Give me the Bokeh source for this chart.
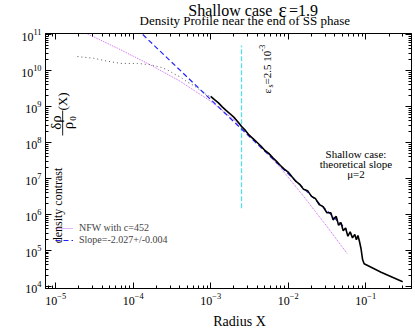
from math import pi
from bokeh.plotting import figure
from bokeh.layouts import column
from bokeh.models import LogAxis, Label, Legend, LegendItem, BoxAnnotation, LogTicker
from bokeh.embed import file_html
from bokeh.resources import INLINE

# ---------------- data ----------------
inner_x = [1.91e-5, 3.12e-5, 4.65e-5, 6.90e-5, 1.13e-4, 1.68e-4, 2.26e-4, 2.76e-4,
           3.37e-4, 4.10e-4, 5.00e-4, 6.10e-4, 7.43e-4, 9.06e-4, 1.00e-3]
inner_y = [2.45e10, 2.19e10, 1.82e10, 1.58e10, 1.58e10, 1.45e10, 1.23e10, 1.05e10,
           8.1e9, 6.5e9, 4.8e9, 3.8e9, 2.75e9, 2.04e9, 1.91e9]

profile_x = [1.00e-3, 1.12e-3, 1.26e-3, 1.41e-3, 1.58e-3, 1.78e-3, 2.00e-3, 2.24e-3,
             2.51e-3, 2.82e-3, 3.16e-3, 3.55e-3, 3.98e-3, 4.47e-3, 5.01e-3, 5.62e-3,
             6.31e-3, 7.08e-3, 7.94e-3, 8.91e-3, 1.00e-2, 1.12e-2, 1.26e-2, 1.41e-2,
             1.58e-2, 1.78e-2, 2.00e-2, 2.24e-2, 2.51e-2, 2.82e-2, 3.16e-2, 3.55e-2,
             3.80e-2, 4.17e-2, 4.47e-2, 4.79e-2, 5.13e-2, 5.50e-2, 5.89e-2, 6.31e-2,
             6.76e-2, 7.24e-2, 7.59e-2, 7.94e-2, 8.32e-2, 8.71e-2, 9.12e-2, 9.55e-2,
             0.158, 0.30]
profile_y = [1.91e9, 1.55e9, 1.26e9, 9.8e8, 7.8e8, 6.3e8, 5.0e8, 3.8e8,
             2.8e8, 2.14e8, 1.58e8, 1.26e8, 1.0e8, 7.9e7, 6.0e7, 5.0e7,
             3.8e7, 3.0e7, 2.3e7, 1.82e7, 1.51e7, 1.12e7, 8.3e6, 6.9e6,
             5.0e6, 4.6e6, 3.2e6, 2.8e6, 1.9e6, 1.66e6, 1.12e6, 1.12e6,
             7.1e5, 8.9e5, 5.0e5, 6.0e5, 3.55e5, 4.2e5, 2.5e5, 3.3e5,
             2.24e5, 2.8e5, 2.0e5, 2.6e5, 1.78e5, 1.12e5, 5.6e4, 4.3e4,
             2.5e4, 1.35e4]

nfw_x = [2.51e-5, 6.31e-5, 1.58e-4, 3.98e-4, 1.0e-3, 2.0e-3, 3.98e-3, 7.94e-3,
         1.58e-2, 3.16e-2, 5.75e-2]
nfw_y = [1.07e11, 4.15e10, 1.53e10, 5.14e9, 1.40e9, 4.26e8, 1.03e8, 1.99e7,
         3.22e6, 4.67e5, 8.3e4]

fit_x = [1.33e-4, 5.7e-2]
fit_y = [1.0e11, 3.8e5]

eps_x = [2.5e-3, 2.5e-3]
eps_y = [1.5e6, 5.0e10]

legend_labels = ["NFW with c=452", "Slope=-2.027+/-0.004"]

# ---------------- main figure ----------------
FONT = "Liberation Serif"
W, H = 415, 329

p = figure(width=W, height=H, x_axis_type="log", y_axis_type="log",
           x_range=(7.4e-6, 0.39), y_range=(8.8e3, 1.07e11),
           output_backend="svg", toolbar_location=None,
           min_border_left=45, min_border_right=4, min_border_top=33,
           min_border_bottom=41, margin=(0, 0, 0, 0))
p.xgrid.visible = False
p.ygrid.visible = False
p.outline_line_color = "black"
p.background_fill_color = "white"
p.border_fill_color = "white"


def style_axis(ax, labels=True):
    ax.major_tick_in = 6
    ax.major_tick_out = 0
    ax.minor_tick_in = 3
    ax.minor_tick_out = 0
    ax.axis_line_color = "black"
    ax.major_tick_line_color = "black"
    ax.minor_tick_line_color = "black"
    if labels:
        ax.major_label_text_font = FONT
        ax.major_label_text_font_size = "12px"
        ax.major_label_text_color = "black"
        ax.major_label_standoff = 4
    else:
        ax.major_label_text_font_size = "1px"
        ax.major_label_text_alpha = 0
        ax.major_label_standoff = 0


for ax in [p.xaxis[0], p.yaxis[0]]:
    ax.ticker = LogTicker(num_minor_ticks=10, desired_num_ticks=8)
    style_axis(ax)

for loc in ["above", "right"]:
    ax = LogAxis(ticker=LogTicker(num_minor_ticks=10, desired_num_ticks=8))
    style_axis(ax, labels=False)
    p.add_layout(ax, loc)

p.line(eps_x, eps_y, line_color="#55e0e8", line_width=1.3, line_dash="5 2")
r_nfw = p.line(nfw_x, nfw_y, line_color="#cc66ee", line_width=1, line_dash="1 1")
r_fit = p.line(fit_x, fit_y, line_color="#2222ff", line_width=1.2, line_dash="5 3")
p.line(inner_x, inner_y, line_color="#555555", line_width=1, line_dash="1 3")
p.line(profile_x, profile_y, line_color="black", line_width=1.6)

legend = Legend(items=[LegendItem(label=legend_labels[0], renderers=[r_nfw]),
                       LegendItem(label=legend_labels[1], renderers=[r_fit])],
                location=(10, 43), border_line_color=None, background_fill_alpha=0,
                label_text_font=FONT, label_text_font_size="10px",
                glyph_width=18, glyph_height=10, label_height=10, spacing=1,
                padding=2, margin=0, label_standoff=6)
p.add_layout(legend)

# ---------------- transparent text overlay (page pixel coordinates) ----------------
q = figure(width=W, height=H, x_range=(0, W), y_range=(0, H),
           output_backend="svg", toolbar_location=None, min_border=0,
           x_axis_location=None, y_axis_location=None, margin=(-H, 0, 0, 0))
q.xgrid.visible = False
q.ygrid.visible = False
q.outline_line_color = None
q.background_fill_alpha = 0
q.border_fill_alpha = 0


def lab(text, px, py, size, align="center", baseline="middle", angle=0.0):
    q.add_layout(Label(x=px, y=H - py, text=text, text_font=FONT, text_font_size=size,
                       text_align=align, text_baseline=baseline, angle=angle,
                       text_color="black"))


# titles
lab("Shallow case", 162, 9.5, "16px", align="left")
lab("ε", 269, 9.5, "20px", align="center")
lab("=1.9", 276, 9.5, "16px", align="left")
lab("Density Profile near the end of SS phase", 226, 19.5, "13px")
lab("Radius X", 220, 321, "14px")

# y axis label
lab("density contrast", 14, 205, "12px", angle=pi / 2)
lab("δρ", 12, 122, "15px", angle=pi / 2)
q.add_layout(BoxAnnotation(left=19, right=20, top=H - 110, bottom=H - 135,
                           fill_color="black", fill_alpha=1, line_color=None))
lab("ρ", 26, 125, "15px", angle=pi / 2)
lab("0", 31, 118, "9px", angle=pi / 2)
lab("(X)", 19, 101, "13px", angle=pi / 2)

# eps_s annotation
lab("ε", 251, 93, "11px", align="left", angle=pi / 2)
lab("s", 255, 87, "8px", align="left", angle=pi / 2)
lab("=2.5 10", 251, 84, "11px", align="left", angle=pi / 2)
lab("-3", 246, 51, "8px", align="left", angle=pi / 2)

# theoretical slope text
lab("Shallow case:", 352, 153, "11px")
lab("theoretical slope", 352, 163, "11px")
lab("μ=2", 352, 173, "11px")

layout = column(p, q)
open("out.html", "w").write(file_html(layout, INLINE))
